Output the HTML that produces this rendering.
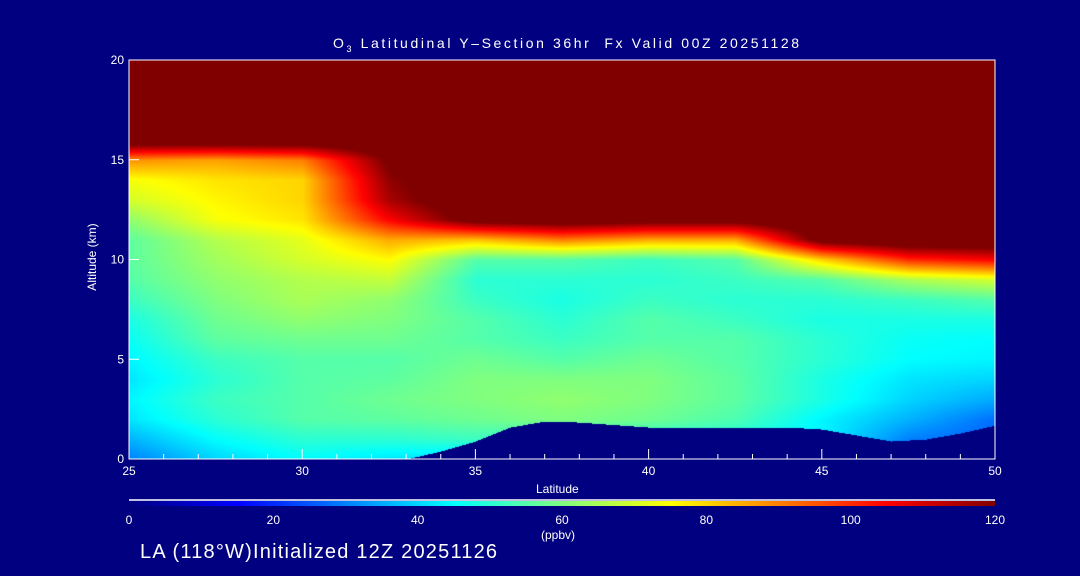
<!DOCTYPE html>
<html><head><meta charset="utf-8"><style>
body{margin:0;background:#000080;width:1080px;height:576px;overflow:hidden;font-family:"Liberation Sans",sans-serif;color:#fff;position:relative}
.t{position:absolute;white-space:nowrap;font-size:13px}
</style></head><body>
<div class="t" style="left:333px;top:35px;font-size:14px;letter-spacing:2.6px">O<sub style="font-size:9px">3</sub> Latitudinal Y&#8211;Section 36hr&nbsp; Fx Valid 00Z 20251128</div>
<canvas id="cv" width="866" height="399" style="position:absolute;left:129px;top:60px"></canvas>
<svg id="ax" width="1080" height="576" style="position:absolute;left:0;top:0"></svg>
<div class="t" style="left:52px;top:250px;transform:rotate(-90deg);transform-origin:center;width:80px;text-align:center;font-size:12px">Altitude (km)</div>
<div class="t" style="left:536px;top:482px;font-size:12px">Latitude</div>
<div class="t" style="left:541px;top:528px;font-size:12px">(ppbv)</div>
<div class="t" style="left:140px;top:541px;font-size:20px;letter-spacing:1.2px">LA (118°W)Initialized 12Z 20251126</div>
<script>
const lats=[25,27.5,30,32.5,35,37.5,40,42.5,45,47.5,50];
const alts=[0,1,2,3,4,5,6,7,8,9,10,11,12,13,14,15,16,17,18,19,20];
const ozone=[
[30,40,45,42,40,40,40,40,40,30,25],
[36,45,50,50,52,50,50,48,44,30,26],
[42,50,55,56,58,60,58,54,44,36,28],
[44,52,55,58,60,62,60,56,48,40,35],
[42,50,55,56,60,60,60,56,48,42,40],
[44,52,55,55,58,55,58,55,50,45,44],
[46,56,58,58,55,52,55,55,50,46,45],
[48,58,62,60,55,50,55,52,48,48,48],
[52,60,65,62,52,48,52,50,50,52,55],
[55,62,66,68,50,50,50,52,55,65,70],
[56,64,70,75,55,55,52,55,80,100,105],
[56,66,72,85,82,90,85,85,125,130,130],
[62,74,78,105,125,128,125,125,130,130,130],
[70,76,80,115,130,130,130,130,130,130,130],
[74,78,80,118,130,130,130,130,130,130,130],
[88,86,90,122,130,130,130,130,130,130,130],
[130,130,130,130,130,130,130,130,130,130,130],
[130,130,130,130,130,130,130,130,130,130,130],
[130,130,130,130,130,130,130,130,130,130,130],
[130,130,130,130,130,130,130,130,130,130,130],
[130,130,130,130,130,130,130,130,130,130,130]];
const terrLat=[25,33,34,35,36,37,38,40,42,44,45,46,47,48,49,50];
const terrAlt=[0,0,0.4,0.9,1.6,1.9,1.85,1.6,1.6,1.6,1.5,1.2,0.9,1.0,1.3,1.7];
const xTicks=[25,30,35,40,45,50];
const yTicks=[0,5,10,15,20];
const cbTicks=[0,20,40,60,80,100,120];
const X0=129,X1=995,Y0=459,Y1=60;
const xs=l=>X0+(l-25)/25*(X1-X0);
const ys=a=>Y0-a/20*(Y0-Y1);
function jet(v){v=Math.max(0,Math.min(1,v));const c=t=>Math.round(255*Math.max(0,Math.min(1,1.5-Math.abs(t))));return [c(4*v-3),c(4*v-2),c(4*v-1)];}
function interp(arrX,arrY,x){for(let i=0;i<arrX.length-1;i++){if(x<=arrX[i+1]){const t=(x-arrX[i])/(arrX[i+1]-arrX[i]);return arrY[i]+t*(arrY[i+1]-arrY[i]);}}return arrY[arrY.length-1];}
const cv=document.getElementById('cv'),ctx=cv.getContext('2d');
const W=cv.width,H=cv.height,img=ctx.createImageData(W,H);
for(let py=0;py<H;py++){const a=(H-py)/H*20;let r=Math.min(alts.length-2,Math.floor(a));const ty=a-r;
for(let px=0;px<W;px++){const l=25+px/W*25;let c=Math.min(lats.length-2,Math.floor((l-25)/2.5));const tx=(l-lats[c])/2.5;
const v=(1-ty)*((1-tx)*ozone[r][c]+tx*ozone[r][c+1])+ty*((1-tx)*ozone[r+1][c]+tx*ozone[r+1][c+1]);
let col=jet(v/120);if(a<interp(terrLat,terrAlt,l))col=[0,0,128];
const k=(py*W+px)*4;img.data[k]=col[0];img.data[k+1]=col[1];img.data[k+2]=col[2];img.data[k+3]=255;}}
ctx.putImageData(img,0,0);
const svg=document.getElementById('ax'),NS='http://www.w3.org/2000/svg';
function mk(tag,at,txt){const e=document.createElementNS(NS,tag);for(const k in at)e.setAttribute(k,at[k]);if(txt!==undefined)e.textContent=txt;svg.appendChild(e);return e;}
let e=mk('rect',{x:X0,y:Y1,width:X1-X0,height:Y0-Y1,fill:'none',stroke:'#fff','stroke-width':1});


for(let l=25;l<=50;l++){const big=l%5===0;e=mk('line',{x1:xs(l),x2:xs(l),y1:Y0,y2:Y0-(big?10:5),stroke:'#fff'});

}
xTicks.forEach(l=>{e=mk('text',{x:xs(l),y:475,fill:'#fff','font-size':12,'text-anchor':'middle','font-family':'Liberation Sans'},String(l));

});
yTicks.forEach(a=>{e=mk('text',{x:124,y:ys(a)+4,fill:'#fff','font-size':12,'text-anchor':'end','font-family':'Liberation Sans'},String(a));


e=mk('line',{x1:X0,x2:X0+10,y1:ys(a),y2:ys(a),stroke:'#fff'});

});
const defs=mk('defs',{});const g=document.createElementNS(NS,'linearGradient');g.setAttribute('id','jg');defs.appendChild(g);
for(let i=0;i<=24;i++){const c=jet(i/24);const s=document.createElementNS(NS,'stop');s.setAttribute('offset',i/24);s.setAttribute('stop-color',`rgb(${c})`);g.appendChild(s);}
e=mk('line',{x1:X0,x2:X1,y1:500,y2:500,stroke:'#fff','stroke-width':1.5});


e=mk('rect',{x:X0,y:501,width:X1-X0,height:5,fill:'url(#jg)'});


cbTicks.forEach(v=>{e=mk('text',{x:X0+v/120*(X1-X0),y:524,fill:'#fff','font-size':12,'text-anchor':'middle','font-family':'Liberation Sans'},String(v));

});
</script>
</body></html>
